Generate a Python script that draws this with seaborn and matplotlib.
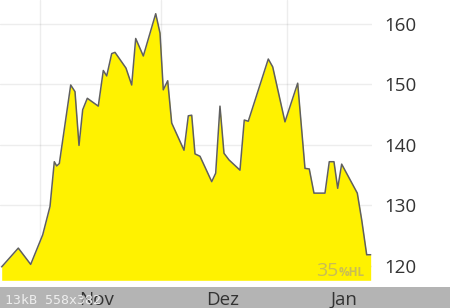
import matplotlib
matplotlib.use("Agg")
import matplotlib.pyplot as plt
import matplotlib.patches as mpatches
import seaborn as sns
import pandas as pd

# --- data ---
base_date = "2012-11-01"
days = [-9.46, -5.36, -2.30, 0.67, 2.47, 3.53, 4.12, 4.77, 7.58, 8.64, 9.63, 10.54,
        11.68, 14.39, 15.63, 16.47, 17.70, 18.52, 21.23, 22.64, 23.63, 25.51, 28.57,
        29.63, 30.44, 31.53, 32.52, 35.56, 36.62, 37.46, 38.27, 39.51, 42.40, 43.38,
        44.44, 45.43, 46.67, 49.38, 50.44, 51.43, 56.37, 57.46, 60.49, 63.63, 65.43,
        66.49, 67.65, 70.37, 71.43, 72.59, 73.51, 74.49, 78.35, 79.43, 80.67, 81.65]
values = [119.8, 122.9, 120.2, 125.1, 129.8, 137.2, 136.5, 136.9, 149.9, 148.8, 139.9,
          145.8, 147.7, 146.4, 152.3, 151.4, 155.1, 155.3, 152.7, 149.9, 157.6, 154.7,
          161.7, 158.5, 149.1, 150.6, 143.6, 139.1, 144.8, 144.9, 138.5, 138.1, 133.9,
          135.3, 146.4, 138.6, 137.5, 135.8, 144.1, 143.9, 154.2, 152.9, 143.8, 150.2,
          136.1, 136.0, 132.0, 132.0, 137.2, 137.2, 132.8, 136.8, 132.0, 127.6, 121.8,
          121.8]
month_starts = ["2012-11-01", "2012-12-01", "2013-01-01"]
month_label_dates = ["2012-11-15", "2012-12-16", "2013-01-15"]
month_labels = ["Nov", "Dez", "Jan"]
y_ticks = [120, 130, 140, 150, 160]
badge_value = "35"
badge_unit = "%HL"
watermark = "13kB 558x382"

dates = pd.Timestamp(base_date) + pd.to_timedelta(days, unit="D")
df = pd.DataFrame({"date": dates, "value": values})

sns.set_theme(style="white")
plt.rcParams["font.family"] = ["Open Sans", "DejaVu Sans"]

fig = plt.figure(figsize=(4.5, 3.08), dpi=100)
fig.patch.set_facecolor("white")
# grey footer band (behind the axes and its tick labels)
fig.patches.append(mpatches.Rectangle((0, 0), 1, 20.7 / 308, transform=fig.transFigure,
                                      facecolor="#b4b4b4", edgecolor="none", zorder=-5))

ax = fig.add_axes([0, 1 - 280.3 / 308, 372 / 450, 280.3 / 308])
ax.set_facecolor("white")
ymin, ymax = 117.57, 163.97
xmin = pd.Timestamp(base_date) + pd.Timedelta(days=-9.88)
xmax = pd.Timestamp(base_date) + pd.Timedelta(days=81.98)

ax.fill_between(df["date"], df["value"], ymin, color="#fff200", linewidth=0, zorder=1)
sns.lineplot(data=df, x="date", y="value", ax=ax, color="#5f5f5f", linewidth=1.1, zorder=3)

ax.set_xlim(xmin, xmax)
ax.set_ylim(ymin, ymax)

# grid at month starts, labels mid-month
ax.set_xticks(pd.to_datetime(month_starts))
ax.set_xticks(pd.to_datetime(month_label_dates), minor=True)
ax.set_xticklabels([], minor=False)
ax.set_xticklabels(month_labels, minor=True)
ax.set_yticks(y_ticks)
ax.grid(True, which="major", color="#000000", alpha=0.07, linewidth=1.0)
for gl in ax.get_xgridlines() + ax.get_ygridlines():
    gl.set_zorder(2)

ax.yaxis.tick_right()
ax.tick_params(axis="y", which="both", length=0, pad=9, labelsize=13.5, labelcolor="#333333")
ax.tick_params(axis="x", which="both", length=0, pad=7.5, labelsize=13.5, labelcolor="#333333")
ax.set_xlabel("")
ax.set_ylabel("")
for s in ax.spines.values():
    s.set_visible(False)

# badge
fig.text(338 / 450, 1 - 275.5 / 308, badge_value, ha="right", va="baseline",
         fontsize=14, color="#c9bd55")
fig.text(339 / 450, 1 - 275.5 / 308, badge_unit, ha="left", va="baseline",
         fontsize=8.5, fontweight="bold", color="#c9bd55")

# watermark
fig.text(5 / 450, 1 - 303.5 / 308, watermark, ha="left", va="baseline",
         fontsize=9.5, family="DejaVu Sans Mono", color="#eeeeee", zorder=10)

fig.savefig("out.png", dpi=100)
